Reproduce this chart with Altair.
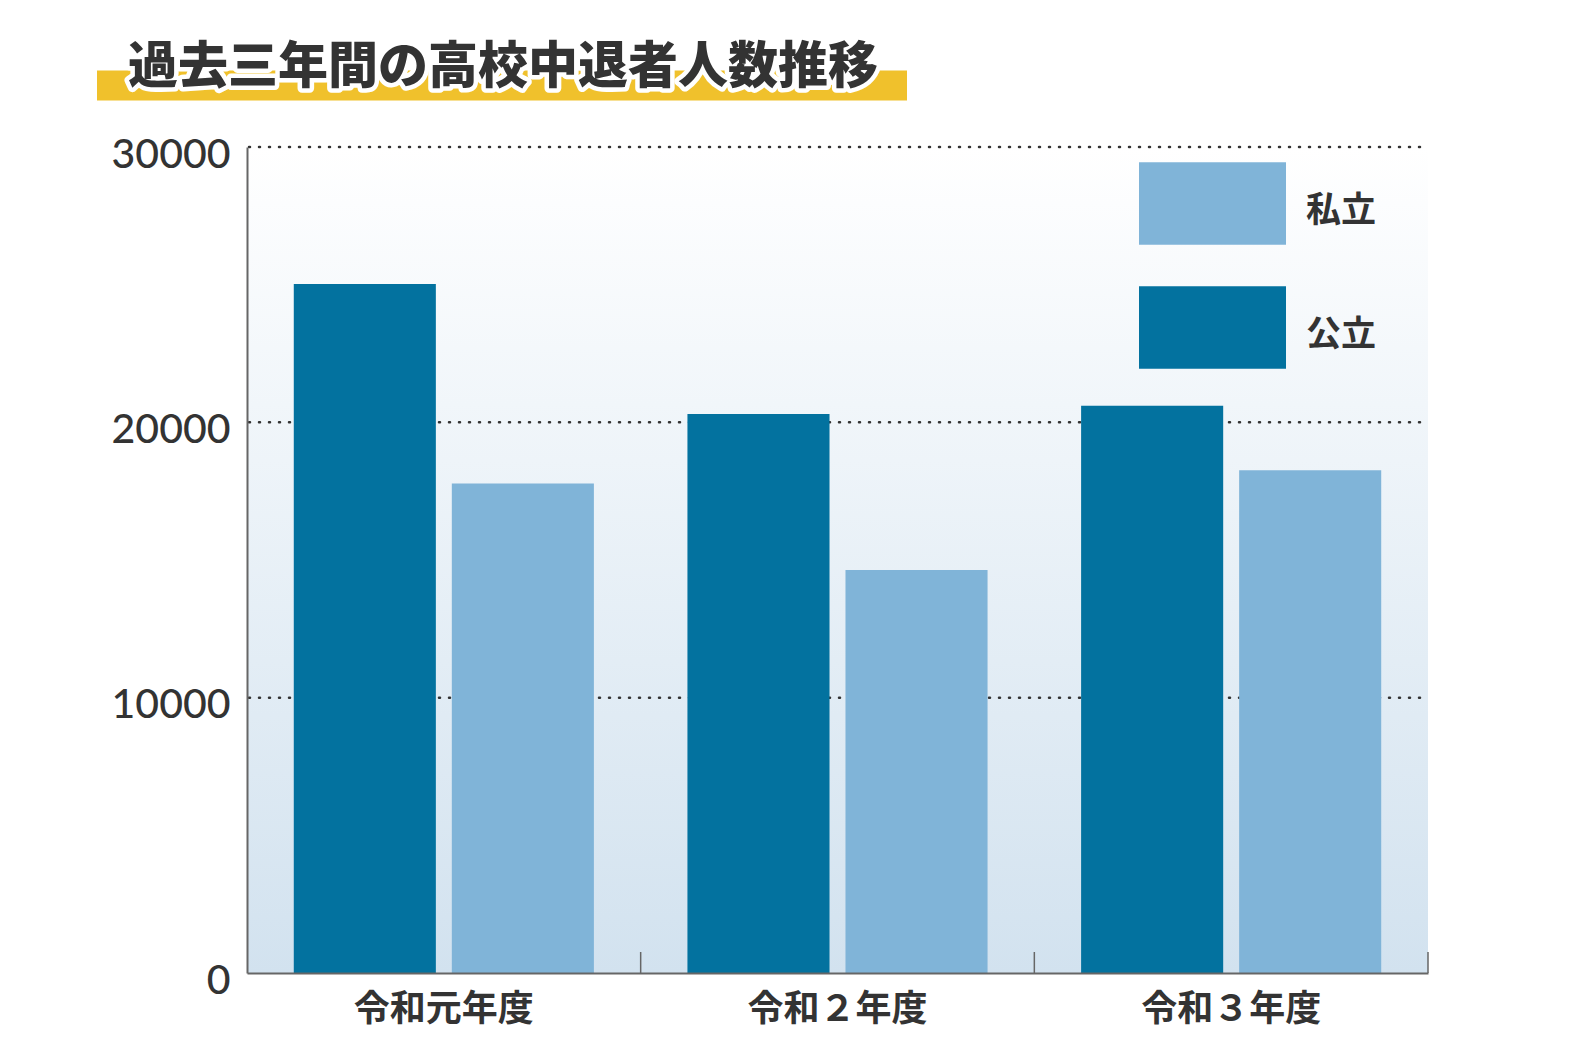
import altair as alt
import pandas as pd

# ---- data ----
years = ["令和元年度", "令和２年度", "令和３年度"]
public_counts = [25020, 20300, 20600]
private_counts = [17780, 14640, 18260]
bar_order = ["公立", "私立"]
legend_order = ["私立", "公立"]
legend_colors = ["#80b4d8", "#03729f"]
y_ticks = [0, 10000, 20000, 30000]
grid_values = [10000, 20000, 30000]
title_text = "過去三年間の高校中退者人数推移"

rows = []
for yr, pu, pr in zip(years, public_counts, private_counts):
    rows.append({"year": yr, "type": "公立", "count": pu})
    rows.append({"year": yr, "type": "私立", "count": pr})
df = pd.DataFrame(rows)
grid_df = pd.DataFrame({"v": grid_values})
tick_df = pd.DataFrame({"year": years})
title_df = pd.DataFrame({"t": [title_text]})
bg_df = pd.DataFrame({"k": [0]})

W, H = 1181, 826
PAD = {"left": 247, "top": 147, "right": 150, "bottom": 79}

x_scale = alt.Scale(domain=years, paddingInner=0, paddingOuter=0)
y_scale = alt.Scale(domain=[0, 30000], nice=False)

x_axis = alt.Axis(title=None, labelAngle=0, ticks=False, grid=False,
                  labelFont="Noto Sans CJK JP", labelFontSize=36,
                  labelFontWeight="bold", labelColor="#333333", labelLimit=500,
                  labelPadding=19, domainColor="#666666", domainWidth=2,
                  zindex=1)
y_axis = alt.Axis(title=None, values=y_ticks, format="d", ticks=False, grid=False,
                  labelFont="Lato", labelFontSize=41, labelFontWeight=500,
                  labelColor="#333333",
                  labelPadding=17, labelOffset=8, domainColor="#666666",
                  domainWidth=2, zindex=1)

background = alt.Chart(bg_df).mark_rect(
    color=alt.LinearGradient(
        gradient="linear", x1=0, x2=0, y1=0, y2=1,
        stops=[alt.GradientStop(offset=0, color="#ffffff"),
               alt.GradientStop(offset=1, color="#d2e2ef")])
).encode(x=alt.value(0), x2=alt.value(W), y=alt.value(0), y2=alt.value(H))

grid = alt.Chart(grid_df).mark_rule(
    color="#333333", strokeWidth=2.5, strokeDash=[1, 9], strokeCap="round"
).encode(x=alt.value(2), x2=alt.value(W),
         y=alt.Y("v:Q", scale=y_scale, axis=y_axis))

bars = alt.Chart(df).mark_bar().encode(
    x=alt.X("year:N", sort=years, scale=x_scale, axis=x_axis),
    xOffset=alt.XOffset("type:N", sort=bar_order,
                        scale=alt.Scale(domain=bar_order, paddingInner=0.101, paddingOuter=0.296)),
    y=alt.Y("count:Q", scale=y_scale, axis=y_axis),
    color=alt.Color("type:N", title=None,
                    scale=alt.Scale(domain=legend_order, range=legend_colors),
                    legend=alt.Legend(
                        orient="none", legendX=892, legendY=-10, padding=0,
                        symbolType="M-1,-0.656L1,-0.656L1,0.466L-1,0.466Z",
                        symbolSize=21609, symbolStrokeWidth=0, symbolOpacity=1,
                        labelFont="Noto Sans CJK JP", labelFontSize=35,
                        labelFontWeight="bold", labelColor="#333333",
                        labelOffset=20, rowPadding=16)),
)

tick_rules = alt.Chart(tick_df).mark_rule(color="#666666", strokeWidth=1.5).encode(
    x=alt.X("year:N", sort=years, scale=x_scale, bandPosition=1),
    y=alt.value(H - 21), y2=alt.value(H))

banner = alt.Chart(title_df).mark_rect(color="#f0c12c").encode(
    x=alt.value(-150), x2=alt.value(660), y=alt.value(-76.5), y2=alt.value(-46.5))

halo = alt.Chart(title_df).mark_text(
    align="left", baseline="middle", font="Noto Sans CJK JP", fontSize=50,
    fontWeight=900, fill="white", stroke="white", strokeWidth=9, strokeJoin="round"
).encode(text="t:N", x=alt.value(-119), y=alt.value(-79.5))

title = alt.Chart(title_df).mark_text(
    align="left", baseline="middle", font="Noto Sans CJK JP", fontSize=50,
    fontWeight=900, color="#333333"
).encode(text="t:N", x=alt.value(-119), y=alt.value(-79.5))

chart = alt.layer(background, grid, bars, tick_rules, banner, halo, title).properties(
    width=W, height=H,
    autosize=alt.AutoSizeParams(type="none"),
    padding=PAD,
).configure_view(stroke="transparent")

chart.save("out.html", embed_options={"renderer": "svg", "actions": False})
